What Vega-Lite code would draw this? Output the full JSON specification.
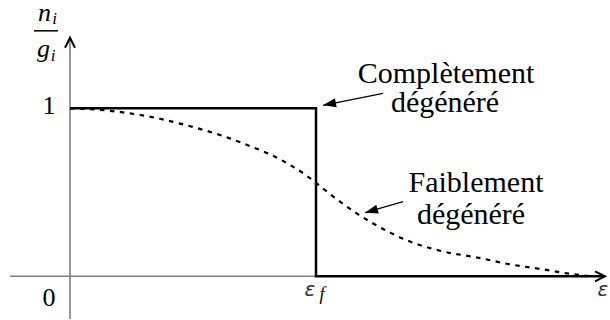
{
  "$schema": "https://vega.github.io/schema/vega-lite/v6.json",
  "width": 610,
  "height": 320,
  "padding": 0,
  "autosize": {"type": "fit", "contains": "padding"},
  "background": "white",
  "config": {"view": {"stroke": null}, "text": {"font": "Liberation Serif"}},
  "encoding": {
    "x": {"type": "quantitative", "scale": {"domain": [-0.2846, 2.1951], "nice": false, "zero": false}, "axis": null},
    "y": {"type": "quantitative", "scale": {"domain": [-0.2544, 1.6391], "nice": false, "zero": false}, "axis": null}
  },
  "layer": [
    {
      "data": {"values": [{"x": 0, "y": -0.2544, "x2": 0, "y2": 1.42}, {"x": -0.2439, "y": 0, "x2": 2.1748, "y2": 0}]},
      "mark": {"type": "rule", "color": "#808080", "strokeWidth": 1.6},
      "encoding": {"x": {"field": "x", "type": "quantitative"}, "y": {"field": "y", "type": "quantitative"}, "x2": {"field": "x2"}, "y2": {"field": "y2"}}
    },
    {
      "data": {"values": [{"x": 0, "y": 1.42}]},
      "mark": {"type": "point", "shape": "M -0.5,1 L 0,0 L 0.5,1", "filled": false, "size": 400, "color": "black", "strokeWidth": 2, "opacity": 1},
      "encoding": {"x": {"field": "x", "type": "quantitative"}, "y": {"field": "y", "type": "quantitative"}}
    },
    {
      "data": {"values": [{"x": 2.1748, "y": 0}]},
      "mark": {"type": "point", "shape": "M -0.5,1 L 0,0 L 0.5,1", "angle": 90, "filled": false, "size": 400, "color": "black", "strokeWidth": 2, "opacity": 1},
      "encoding": {"x": {"field": "x", "type": "quantitative"}, "y": {"field": "y", "type": "quantitative"}}
    },
    {
      "data": {"values": [
        {"order": 1, "x": 0, "y": 1},
        {"order": 2, "x": 1, "y": 1},
        {"order": 3, "x": 1, "y": 0},
        {"order": 4, "x": 2.1667, "y": 0}
      ]},
      "mark": {"type": "line", "color": "black", "strokeWidth": 2.5, "strokeJoin": "miter"},
      "encoding": {"x": {"field": "x", "type": "quantitative"}, "y": {"field": "y", "type": "quantitative"}, "order": {"field": "order"}}
    },
    {
      "data": {"values": [
        {"x": 0, "y": 1.0},
        {"x": 0.122, "y": 0.991},
        {"x": 0.244, "y": 0.970},
        {"x": 0.366, "y": 0.938},
        {"x": 0.447, "y": 0.909},
        {"x": 0.569, "y": 0.860},
        {"x": 0.650, "y": 0.821},
        {"x": 0.732, "y": 0.775},
        {"x": 0.813, "y": 0.726},
        {"x": 0.894, "y": 0.663},
        {"x": 0.963, "y": 0.598},
        {"x": 1.0, "y": 0.556},
        {"x": 1.045, "y": 0.503},
        {"x": 1.098, "y": 0.444},
        {"x": 1.167, "y": 0.373},
        {"x": 1.220, "y": 0.325},
        {"x": 1.301, "y": 0.260},
        {"x": 1.382, "y": 0.207},
        {"x": 1.516, "y": 0.148},
        {"x": 1.654, "y": 0.112},
        {"x": 1.789, "y": 0.071},
        {"x": 1.923, "y": 0.041},
        {"x": 2.045, "y": 0.012},
        {"x": 2.122, "y": 0.0}
      ]},
      "mark": {"type": "line", "color": "black", "strokeWidth": 2.2, "strokeDash": [4.5, 5.5], "interpolate": "monotone"},
      "encoding": {"x": {"field": "x", "type": "quantitative"}, "y": {"field": "y", "type": "quantitative"}}
    },
    {
      "data": {"values": [
        {"x": 1.2724, "y": 1.0888, "x2": 1.0285, "y2": 1.0178},
        {"x": 1.3537, "y": 0.4438, "x2": 1.1992, "y2": 0.3787}
      ]},
      "mark": {"type": "rule", "color": "black", "strokeWidth": 1.3},
      "encoding": {"x": {"field": "x", "type": "quantitative"}, "y": {"field": "y", "type": "quantitative"}, "x2": {"field": "x2"}, "y2": {"field": "y2"}}
    },
    {
      "data": {"values": [{"x": 1.0285, "y": 1.0178}]},
      "mark": {"type": "point", "shape": "M 0,0 L -1,-0.35 L -1,0.35 Z", "angle": 168.7, "filled": true, "size": 676, "color": "black", "opacity": 1},
      "encoding": {"x": {"field": "x", "type": "quantitative"}, "y": {"field": "y", "type": "quantitative"}}
    },
    {
      "data": {"values": [{"x": 1.1992, "y": 0.3787}]},
      "mark": {"type": "point", "shape": "M 0,0 L -1,-0.35 L -1,0.35 Z", "angle": 163.9, "filled": true, "size": 676, "color": "black", "opacity": 1},
      "encoding": {"x": {"field": "x", "type": "quantitative"}, "y": {"field": "y", "type": "quantitative"}}
    },
    {
      "data": {"values": [
        {"x": 1.5285, "y": 1.1479, "label": "Complètement"},
        {"x": 1.5244, "y": 0.9763, "label": "dégénéré"},
        {"x": 1.6504, "y": 0.5030, "label": "Faiblement"},
        {"x": 1.6301, "y": 0.3136, "label": "dégénéré"}
      ]},
      "mark": {"type": "text", "font": "Liberation Serif", "fontSize": 30, "align": "center", "baseline": "alphabetic", "color": "black"},
      "encoding": {"x": {"field": "x", "type": "quantitative"}, "y": {"field": "y", "type": "quantitative"}, "text": {"field": "label"}}
    },
    {
      "data": {"values": [
        {"x": -0.0854, "y": 1.0118, "label": "1"},
        {"x": -0.0854, "y": -0.1302, "label": "0"}
      ]},
      "mark": {"type": "text", "font": "Liberation Serif", "fontSize": 26, "align": "center", "baseline": "middle", "color": "black"},
      "encoding": {"x": {"field": "x", "type": "quantitative"}, "y": {"field": "y", "type": "quantitative"}, "text": {"field": "label"}}
    },
    {
      "data": {"values": [
        {"x": -0.1037, "y": 1.5207, "label": "n"},
        {"x": -0.1077, "y": 1.3077, "label": "g"}
      ]},
      "mark": {"type": "text", "font": "Liberation Serif", "fontStyle": "italic", "fontSize": 26, "align": "center", "baseline": "alphabetic", "color": "black"},
      "encoding": {"x": {"field": "x", "type": "quantitative"}, "y": {"field": "y", "type": "quantitative"}, "text": {"field": "label"}}
    },
    {
      "data": {"values": [
        {"x": -0.063, "y": 1.503, "label": "i"},
        {"x": -0.0691, "y": 1.284, "label": "i"}
      ]},
      "mark": {"type": "text", "font": "Liberation Serif", "fontStyle": "italic", "fontSize": 17, "align": "center", "baseline": "alphabetic", "color": "black"},
      "encoding": {"x": {"field": "x", "type": "quantitative"}, "y": {"field": "y", "type": "quantitative"}, "text": {"field": "label"}}
    },
    {
      "data": {"values": [{"x": -0.1463, "y": 1.4615, "x2": -0.0488, "y2": 1.4615}]},
      "mark": {"type": "rule", "color": "black", "strokeWidth": 1.5},
      "encoding": {"x": {"field": "x", "type": "quantitative"}, "y": {"field": "y", "type": "quantitative"}, "x2": {"field": "x2"}, "y2": {"field": "y2"}}
    },
    {
      "data": {"values": [
        {"x": 0.9756, "y": -0.1183, "label": "ε"},
        {"x": 2.1667, "y": -0.1183, "label": "ε"}
      ]},
      "mark": {"type": "text", "font": "DejaVu Sans", "fontStyle": "italic", "fontSize": 20, "align": "center", "baseline": "alphabetic", "color": "#333333"},
      "encoding": {"x": {"field": "x", "type": "quantitative"}, "y": {"field": "y", "type": "quantitative"}, "text": {"field": "label"}}
    },
    {
      "data": {"values": [{"x": 1.0244, "y": -0.1420, "label": "f"}]},
      "mark": {"type": "text", "font": "Liberation Serif", "fontStyle": "italic", "fontSize": 18, "align": "center", "baseline": "alphabetic", "color": "black"},
      "encoding": {"x": {"field": "x", "type": "quantitative"}, "y": {"field": "y", "type": "quantitative"}, "text": {"field": "label"}}
    }
  ]
}
